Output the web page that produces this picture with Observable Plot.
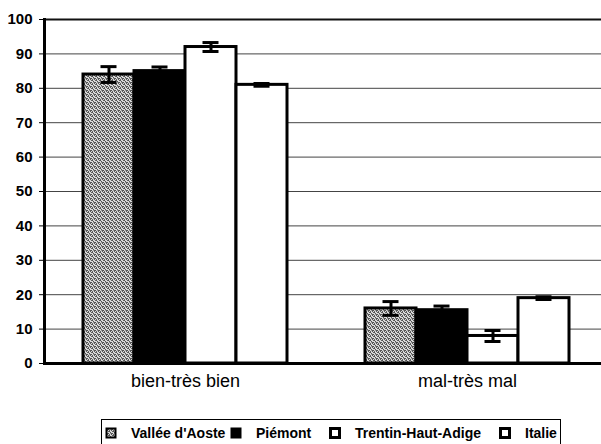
<!DOCTYPE html>
<html><head><meta charset="utf-8">
<script src="https://cdn.jsdelivr.net/npm/d3@7"></script>
<script src="https://cdn.jsdelivr.net/npm/@observablehq/plot@0.6"></script>
<style>
body{margin:0;background:#fff;font-family:"Liberation Sans",Arial,sans-serif;}
#wrap{position:relative;width:601px;height:444px;overflow:hidden;background:#fff;}
#legend{position:absolute;left:101px;top:419px;width:460px;height:32px;border:1px solid #000;box-sizing:border-box;display:grid;grid-template-columns:125px 99px 170px auto;align-items:center;padding-left:3px;padding-bottom:4px;font-weight:bold;font-size:14px;color:#000;}
.item{display:flex;align-items:center;gap:14px;white-space:nowrap;}
.item svg{display:block;}
</style></head><body>
<svg width="0" height="0" style="position:absolute"><defs><pattern id="dither" width="4" height="4" patternUnits="userSpaceOnUse"><rect width="4" height="4" fill="#d8d8d8"/><rect x="0" y="0" width="1" height="1" fill="#505050"/><rect x="3" y="0" width="1" height="1" fill="#606060"/><rect x="1" y="1" width="1" height="1" fill="#505050"/><rect x="2" y="2" width="1" height="1" fill="#555"/><rect x="0" y="3" width="1" height="1" fill="#606060"/><rect x="3" y="2" width="1" height="1" fill="#505050"/><rect x="2" y="3" width="1" height="1" fill="#5a5a5a"/><rect x="1" y="2" width="1" height="1" fill="#9a9a9a"/></pattern></defs></svg>
<div id="wrap"><div id="chart"></div><div id="legend"></div></div>
<script>
const groupes = ["bien-très bien", "mal-très mal"];
const regions = ["Vallée d'Aoste", "Piémont", "Trentin-Haut-Adige", "Italie"];
const valeursBien = [84, 85, 92, 81];
const valeursMal = [16, 15.5, 8, 19];
const erreursBien = [2.3, 1.2, 1.3, 0.4];
const erreursMal = [2.0, 1.2, 1.6, 0.4];
const yTicks = [0, 10, 20, 30, 40, 50, 60, 70, 80, 90, 100];
const remplissages = ["url(#dither)", "#000", "#fff", "#fff"];

const data = [];
groupes.forEach((g, gi) => regions.forEach((r, ri) => {
  const v = gi === 0 ? valeursBien[ri] : valeursMal[ri];
  const e = gi === 0 ? erreursBien[ri] : erreursMal[ri];
  data.push({groupe: g, region: r, valeur: v, bas: v - e, haut: v + e});
}));

const chart = Plot.plot({
  width: 601, height: 410,
  marginLeft: 44, marginRight: -7, marginTop: 19, marginBottom: 47,
  style: {fontFamily: "Liberation Sans, Arial, sans-serif", background: "transparent", color: "#000"},
  fx: {domain: groupes, padding: 0, label: null},
  x: {domain: regions, paddingInner: 0, paddingOuter: 0.725, axis: null},
  y: {domain: [0, 100], axis: null},
  color: {domain: regions, range: remplissages},
  marks: [
    Plot.ruleY(yTicks.slice(1, -1), {stroke: "#444", strokeWidth: 1}),
    Plot.barY(data, {fx: "groupe", x: "region", y: "valeur", fill: "region", stroke: "#000", strokeWidth: 3}),
    Plot.ruleX(data, {fx: "groupe", x: "region", y1: "bas", y2: "haut", stroke: "#000", strokeWidth: 3}),
    Plot.tickY(data, {fx: "groupe", x: "region", y: "haut", inset: 17.5, stroke: "#000", strokeWidth: 3}),
    Plot.tickY(data, {fx: "groupe", x: "region", y: "bas", inset: 17.5, stroke: "#000", strokeWidth: 3}),
    Plot.ruleY([0], {stroke: "#000", strokeWidth: 3}),
    Plot.ruleY([100], {stroke: "#111", strokeWidth: 2}),
    Plot.frame({anchor: "left", facetAnchor: "left", stroke: "#000", strokeWidth: 3}),
    Plot.axisY({ticks: yTicks, tickSize: 5, tickPadding: 7, fontSize: 15, fontWeight: "bold", label: null, stroke: "#000"}),
    Plot.axisFx({anchor: "bottom", tickSize: 0, tickPadding: 11, fontSize: 18, label: null})
  ]
});
document.getElementById("chart").appendChild(chart);

const svgns = "http://www.w3.org/2000/svg";
const legend = document.getElementById("legend");
regions.forEach((r, i) => {
  const item = document.createElement("div");
  item.className = "item";
  const sw = document.createElementNS(svgns, "svg");
  sw.setAttribute("width", 12); sw.setAttribute("height", 12);
  const rect = document.createElementNS(svgns, "rect");
  rect.setAttribute("x", 1.5); rect.setAttribute("y", 1.5);
  rect.setAttribute("width", 9); rect.setAttribute("height", 9);
  rect.setAttribute("fill", remplissages[i]);
  rect.setAttribute("stroke", "#000"); rect.setAttribute("stroke-width", i >= 2 ? 3 : 2);
  sw.appendChild(rect);
  const t = document.createElement("span");
  t.textContent = r;
  item.appendChild(sw); item.appendChild(t);
  legend.appendChild(item);
});
</script>
</body></html>
